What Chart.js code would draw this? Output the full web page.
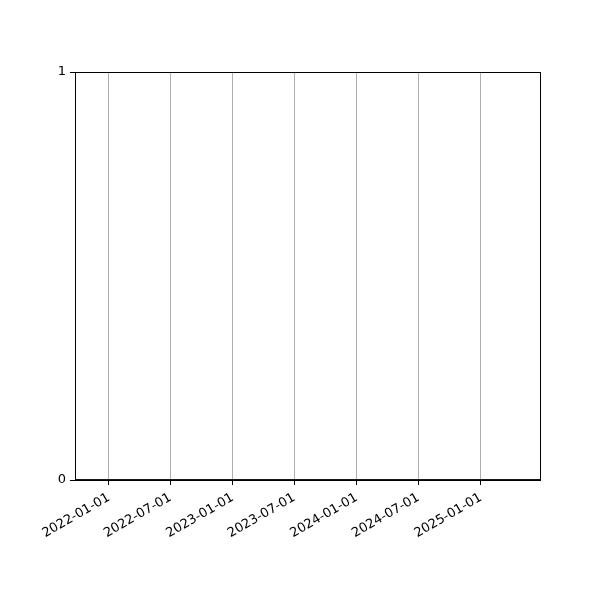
<!DOCTYPE html>
<html>
<head>
<meta charset="utf-8">
<script src="https://cdn.jsdelivr.net/npm/chart.js@4"></script>
<style>
  html, body { margin: 0; padding: 0; background: #fff; }
  #wrap { width: 600px; height: 600px; }
</style>
</head>
<body>
<div id="wrap"><canvas id="chart"></canvas></div>
<script>
// ── Data ────────────────────────────────────────────────────────────────────
const dates     = ['2021-09-23', '2022-01-01', '2022-07-01', '2023-01-01', '2023-07-01',
                   '2024-01-01', '2024-07-01', '2025-01-01', '2025-06-24'];
const values    = [0, 0, 0, 0, 0, 0, 0, 0, 0];
const tickDates = ['2022-01-01', '2022-07-01', '2023-01-01', '2023-07-01',
                   '2024-01-01', '2024-07-01', '2025-01-01'];
const yTicks    = [0, 1];
const xRange    = ['2021-09-23', '2025-06-24'];

const ms = d => Date.parse(d + 'T00:00:00Z');
const fmt = v => new Date(v).toISOString().slice(0, 10);

// ── Frame plugin (matplotlib-style box) ─────────────────────────────────────
const frame = {
  id: 'frame',
  afterDatasetsDraw(chart) {
    const { ctx, chartArea: a } = chart;
    ctx.save();
    ctx.strokeStyle = '#000';
    ctx.lineWidth = 1;
    ctx.strokeRect(a.left + 0.5, a.top + 0.5, a.right - a.left, a.bottom - a.top);
    ctx.restore();
  }
};

Chart.defaults.font.family = '"DejaVu Sans", sans-serif';
Chart.defaults.font.size = 13;
Chart.defaults.color = '#000';

new Chart(document.getElementById('chart'), {
  type: 'line',
  data: {
    datasets: [{
      data: dates.map((d, i) => ({ x: ms(d), y: values[i] })),
      borderColor: '#0000d0', borderWidth: 2, pointRadius: 0, fill: false, clip: false,
    }]
  },
  options: {
    responsive: true, maintainAspectRatio: false, animation: false,
    layout: { padding: { top: 72, right: 60, left: 0, bottom: 0 } },
    plugins: { legend: { display: false }, tooltip: { enabled: false } },
    scales: {
      x: {
        type: 'linear', min: ms(xRange[0]), max: ms(xRange[1]),
        afterBuildTicks: s => { s.ticks = tickDates.map(d => ({ value: ms(d) })); },
        afterFit: s => { s.height = 120; },
        ticks: { callback: v => fmt(v), minRotation: 30, maxRotation: 30, padding: 5 },
        grid: { color: '#b0b0b0', tickColor: '#000', tickLength: 5, lineWidth: 1 },
        border: { color: '#000' },
      },
      y: {
        min: 0, max: 1,
        afterBuildTicks: s => { s.ticks = yTicks.map(v => ({ value: v })); },
        afterFit: s => { s.width = 75; },
        ticks: { padding: 4 },
        grid: { drawOnChartArea: false, tickColor: '#000', tickLength: 5 },
        border: { color: '#000' },
      }
    }
  },
  plugins: [frame]
});
</script>
</body>
</html>
